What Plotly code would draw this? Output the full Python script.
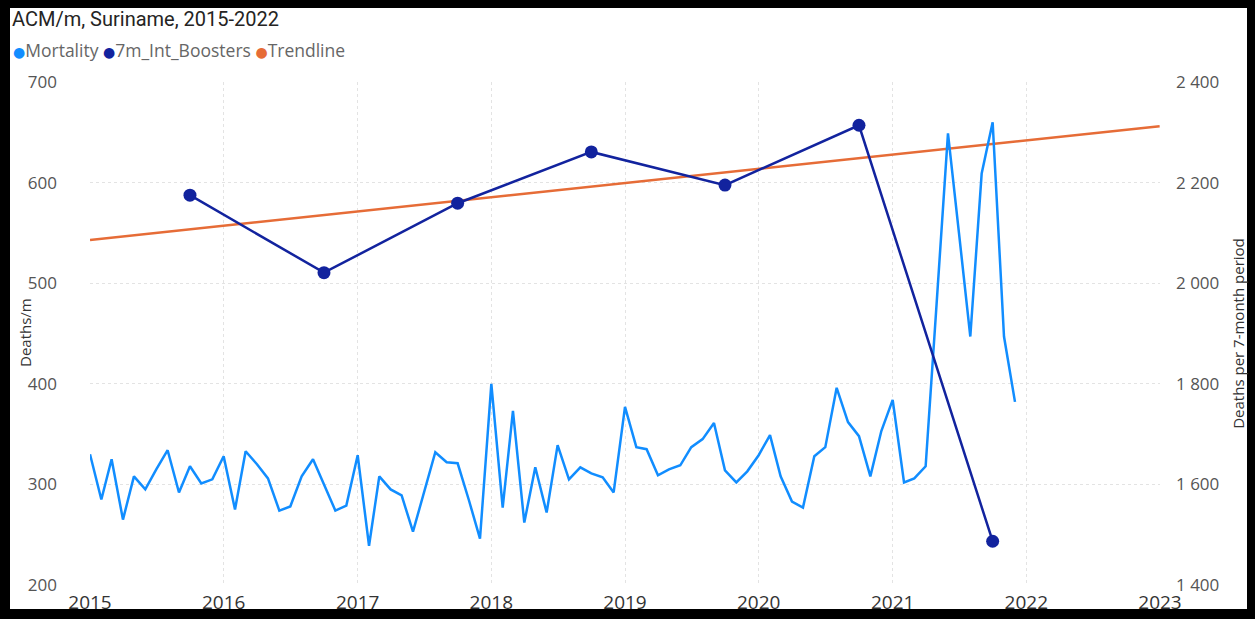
import pandas as pd
import plotly.graph_objects as go

# Monthly all-cause mortality, Jan 2015 - Dec 2021
months = pd.date_range("2015-01-01", "2021-12-01", freq="MS")
mortality = [
    330, 285, 325, 265, 308, 295, 315, 334, 292, 318, 301, 305,   # 2015
    328, 275, 333, 320, 306, 274, 278, 308, 325, 299, 274, 279,   # 2016
    329, 239, 308, 295, 289, 253, 293, 332, 322, 321, 284, 246,   # 2017
    400, 277, 373, 262, 317, 272, 339, 305, 317, 311, 307, 292,   # 2018
    377, 337, 335, 309, 315, 319, 337, 345, 361, 314, 302, 313,   # 2019
    329, 349, 308, 283, 277, 328, 337, 396, 362, 348, 308, 353,   # 2020
    384, 302, 306, 318, 480, 649, 550, 447, 609, 660, 447, 382,   # 2021
]

# Deaths per 7-month period (right axis)
booster_dates = pd.to_datetime([f"{y}-10-01" for y in range(2015, 2022)])
boosters = [2175, 2021, 2159, 2261, 2195, 2314, 1487]

# Linear trendline endpoints (left axis)
trend_dates = ["2015-01-01", "2022-12-31"]
trend_values = [543, 656]

year_ticks = [f"{y}-01-01" for y in range(2015, 2024)]
year_labels = [str(y) for y in range(2015, 2024)]

series_names = ["Mortality", "7m_Int_Boosters", "Trendline"]
series_colors = ["#118DFF", "#12239E", "#E66C37"]
C_MORT, C_BOOST, C_TREND = series_colors

W, H = 1255, 619
ML, MR, MT, MB = 90, 95, 82, 34
PW, PH = W - ML - MR, H - MT - MB


def px_x(px):
    return (px - ML) / PW


def px_y(py):
    return (H - MB - py) / PH


fig = go.Figure()

fig.add_trace(go.Scatter(
    x=trend_dates, y=trend_values, mode="lines", name="Trendline",
    line=dict(color=C_TREND, width=2.5), yaxis="y",
))
fig.add_trace(go.Scatter(
    x=months, y=mortality, mode="lines", name="Mortality",
    line=dict(color=C_MORT, width=2.5), yaxis="y",
))
fig.add_trace(go.Scatter(
    x=booster_dates, y=boosters, mode="lines+markers", name="7m_Int_Boosters",
    line=dict(color=C_BOOST, width=2.5),
    marker=dict(color=C_BOOST, size=13), yaxis="y2",
))

# Compact dot legend across the top
legend_html = " ".join(
    f'<span style="color:{c};font-family:DejaVu Sans;font-size:14px">●</span>{n}'
    for n, c in zip(series_names, series_colors)
)

# Black frame around the visual
frame = [
    (0, 0, 10, H), (W - 8, 0, W, H), (0, 0, W, 8), (0, H - 10, W, H),
]
shapes = []
for x0, y0, x1, y1 in frame:
    shapes.append(dict(
        type="rect", xref="paper", yref="paper",
        x0=px_x(x0), x1=px_x(x1), y0=px_y(y1), y1=px_y(y0),
        fillcolor="black", line=dict(width=0), layer="above",
    ))

fig.update_layout(
    width=W, height=H,
    margin=dict(l=ML, r=MR, t=MT, b=MB, pad=0, autoexpand=False),
    paper_bgcolor="white", plot_bgcolor="white",
    separators=". ",
    showlegend=False,
    font=dict(family="Open Sans", color="#555555"),
    title=dict(
        text="ACM/m, Suriname, 2015-2022",
        x=12 / W, xanchor="left", xref="container",
        y=1 - 19 / H, yanchor="middle", yref="container",
        font=dict(family="Roboto", size=20, color="#252423"),
    ),
    annotations=[
        dict(
            text=legend_html, xref="paper", yref="paper",
            x=px_x(11), xanchor="left", y=px_y(50), yanchor="middle",
            showarrow=False, font=dict(size=17.5, color="#666666"),
        ),
        dict(
            text="Deaths/m", xref="paper", yref="paper",
            x=px_x(25), xanchor="center", y=px_y(333), yanchor="middle",
            textangle=-90, showarrow=False,
            font=dict(size=15, color="#333333"),
        ),
    ],
    xaxis=dict(
        type="date", range=["2015-01-01", "2023-01-01"],
        tickvals=year_ticks, ticktext=year_labels,
        showgrid=True, gridcolor="#E3E3E3", griddash="dot", gridwidth=1,
        zeroline=False, showline=False, automargin=False,
        tickfont=dict(size=19, color="#333333"),
        ticklabelstandoff=4,
    ),
    yaxis=dict(
        range=[200, 700], dtick=100, tick0=200,
        showgrid=True, gridcolor="#E3E3E3", griddash="dot", gridwidth=1,
        zeroline=False, showline=False, automargin=False,
        tickfont=dict(size=17, color="#555555"),
        ticklabelstandoff=32,
    ),
    yaxis2=dict(
        range=[1400, 2400], dtick=200, tick0=1400,
        overlaying="y", side="right",
        showgrid=False, zeroline=False, showline=False, automargin=False,
        tickformat=",d",
        tickfont=dict(size=17, color="#555555"),
        ticklabelstandoff=15,
        title=dict(text="Deaths per 7-month period", standoff=15,
                   font=dict(size=15, color="#333333")),
    ),
    shapes=shapes,
)

fig.write_html("out.html")
